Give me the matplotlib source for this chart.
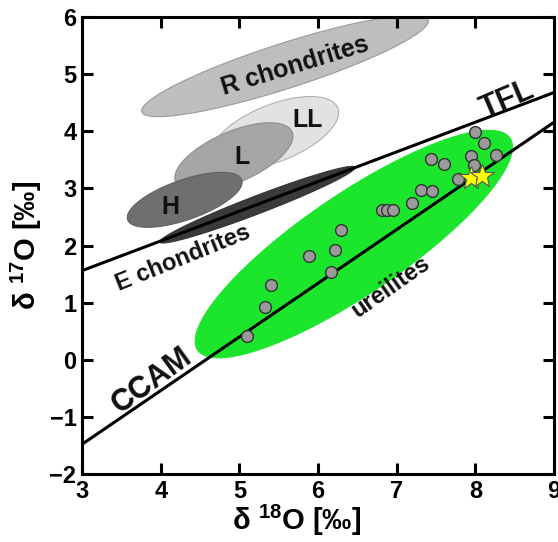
import numpy as np
import matplotlib
matplotlib.use("Agg")
import matplotlib.pyplot as plt

plt.rcParams['font.family'] = ['Liberation Sans', 'DejaVu Sans']
plt.rcParams['font.weight'] = 'bold'
plt.rcParams['mathtext.fontset'] = 'custom'
plt.rcParams['mathtext.rm'] = 'Liberation Sans:bold'
plt.rcParams['mathtext.bf'] = 'Liberation Sans:bold'
plt.rcParams['mathtext.it'] = 'Liberation Sans:bold'

# ureilite analyses (d18O, d17O)
ure_d18 = [7.99, 8.11, 8.26, 7.95, 7.98, 7.44, 7.60, 7.78, 7.31, 7.45, 7.19,
           6.81, 6.88, 6.95, 6.29, 6.21, 5.89, 6.16, 5.40, 5.33, 5.10]
ure_d17 = [3.99, 3.80, 3.58, 3.57, 3.41, 3.51, 3.42, 3.16, 2.97, 2.96, 2.74,
           2.62, 2.62, 2.62, 2.27, 1.93, 1.81, 1.54, 1.31, 0.92, 0.41]
star_d18 = [7.95, 8.09]
star_d17 = [3.19, 3.22]

# reference lines: slope, intercept
line_names = ['TFL', 'CCAM']
line_slope = [0.52, 0.94]
line_icept = [0.0, -4.30]

# fields: major axis ends (d18O, d17O) and minor/major ratio
field_names = ['R', 'LL', 'L', 'H', 'E', 'ureilites']
field_start = [(3.76, 4.34), (4.65, 3.53), (4.19, 3.11), (3.58, 2.45), (3.99, 2.06), (4.47, 0.17)]
field_end = [(7.40, 5.95), (6.25, 4.41), (5.67, 3.99), (5.03, 3.15), (6.47, 3.37), (8.44, 3.88)]
field_ratio = [0.15, 0.42, 0.40, 0.33, 0.085, 0.265]
field_color = ['#bebebe', '#e2e2e2', '#a5a5a5', '#6f6f6f', '#3a3a3a', '#1be62c']
field_edge = ['#9a9a9a', '#b0b0b0', '#8f8f8f', '#5f5f5f', '#333333', '#1be62c']

fig = plt.figure(figsize=(5.58, 5.42), dpi=100)
ax = fig.add_axes([0.147, 0.1255, 0.846, 0.843])
ax.set_xlim(3, 9)
ax.set_ylim(-2, 6)


def draw_field(ax, p0, p1, ratio, fc, ec, z):
    # build the ellipse in screen space so it keeps its shape, then go back to data
    a0 = ax.transData.transform(p0)
    a1 = ax.transData.transform(p1)
    c = (a0 + a1) / 2
    d = a1 - a0
    half = np.hypot(*d) / 2
    u = d / np.hypot(*d)
    n = np.array([-u[1], u[0]])
    t = np.linspace(0, 2 * np.pi, 200)
    pts = c + np.outer(half * np.cos(t), u) + np.outer(half * ratio * np.sin(t), n)
    xy = ax.transData.inverted().transform(pts)
    ax.fill(xy[:, 0], xy[:, 1], fc=fc, ec=ec, lw=0.8, zorder=z)


for i in range(len(field_names)):
    draw_field(ax, field_start[i], field_end[i], field_ratio[i],
               field_color[i], field_edge[i], 1 + i * 0.1 if i < 5 else 3)

xs = np.array([3, 9])
ax.plot(xs, line_slope[0] * xs + line_icept[0], color='black', lw=2.2, zorder=2.5)
ax.plot(xs, line_slope[1] * xs + line_icept[1], color='black', lw=2.2, zorder=4)

ax.plot(ure_d18, ure_d17, 'o', ms=8.5, mfc='#9a9a9a', mec='#333333', mew=1, zorder=5)
ax.plot(star_d18, star_d17, '*', ms=18, mfc='#ffff00', mec='#555555', mew=0.8, zorder=6)

lab = dict(ha='center', va='center', rotation_mode='anchor', color='#111111', fontweight='bold')
ax.text(5.71, 5.14, 'R chondrites', fontsize=18, rotation=17, **lab)
ax.text(5.87, 4.20, 'LL', fontsize=18, **lab)
ax.text(5.03, 3.55, 'L', fontsize=18, **lab)
ax.text(4.12, 2.67, 'H', fontsize=18, **lab)
ax.text(4.28, 1.78, 'E chondrites', fontsize=17, rotation=22, **lab)
ax.text(6.93, 1.27, 'ureilites', fontsize=17, rotation=35, **lab)
ax.text(8.40, 4.55, 'TFL', fontsize=22, rotation=23, **lab)
ax.text(3.89, -0.36, 'CCAM', fontsize=22, rotation=36, **lab)

ax.set_xticks(range(3, 10))
ax.set_yticks(range(-2, 7))
ax.tick_params(direction='in', length=8, width=2.2, top=True, right=True,
               labelsize=17, pad=4)
for lb in ax.get_xticklabels() + ax.get_yticklabels():
    lb.set_fontweight('bold')
for s in ax.spines.values():
    s.set_linewidth(2.2)

ax.set_xlabel('δ $^{18}$O [‰]', fontsize=21, fontweight='bold')
ax.set_ylabel('δ $^{17}$O [‰]', fontsize=21, fontweight='bold', labelpad=4)
ax.xaxis.set_label_coords(0.455, -0.064)

fig.savefig('out.png', dpi=100)
